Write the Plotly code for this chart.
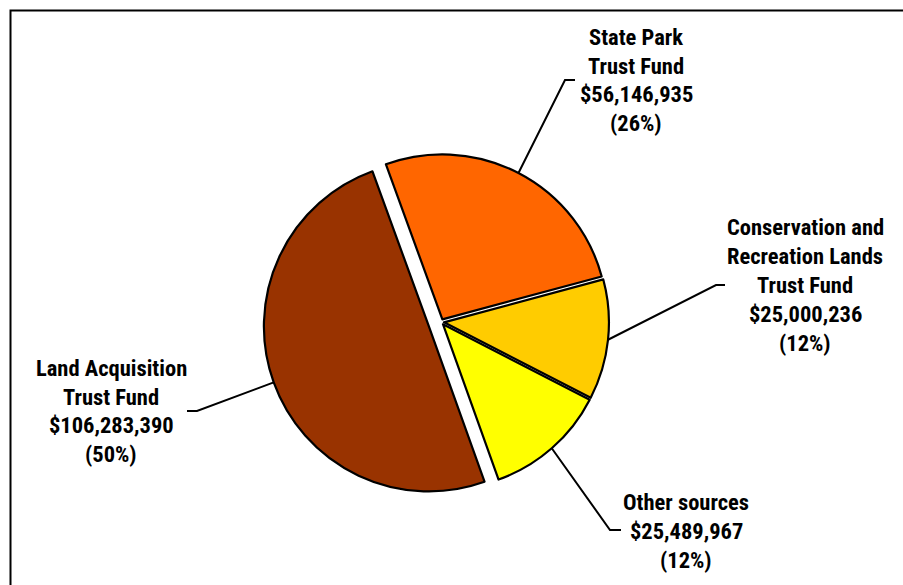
import math
import plotly.graph_objects as go

# ---- data ----
categories = ["State Park<br>Trust Fund", "Conservation and<br>Recreation Lands<br>Trust Fund",
              "Other sources", "Land Acquisition<br>Trust Fund"]
values = [56146935, 25000236, 25489967, 106283390]
pct_labels = ["26%", "12%", "12%", "50%"]
colors = ["#FF6600", "#FFCC00", "#FFFF00", "#993300"]
pulls = [0.018, 0.018, 0.018, 0.078]

W, H = 903, 585
ROT = -20.0          # start angle (deg, clockwise from 12 o'clock)
CX, CY = 441.0, 322.0  # pie centre in pixels
R = 165.0            # pie radius in pixels
half = R * (1 + max(pulls))
LINE_GAP = 28.8

def px(x):
    return x / W

def py(y):
    return 1 - y / H

fig = go.Figure(go.Pie(
    labels=[c.replace("<br>", " ") for c in categories], values=values, sort=False,
    direction="clockwise", rotation=ROT, pull=pulls, textinfo="none",
    hoverinfo="label+value+percent",
    marker=dict(colors=colors, line=dict(color="black", width=2.2)),
    domain=dict(x=[px(CX - half), px(CX + half)], y=[py(CY + half), py(CY - half)]),
    showlegend=False,
))

# label text positions (pixel centres) and leader-line elbows
label_pos = [(636, 80), (805, 285), (686, 531), (111, 411)]
elbows = [[(565, 80), (575, 80)], [(716, 285), (725, 285)],
          [(610, 530), (621, 530)], [(197, 411), (187, 411)]]

total = sum(values)
acc = 0.0
shapes = []
annotations = []
font = dict(family="Roboto, sans-serif", size=22.5, color="black", weight="bold")
for i, v in enumerate(values):
    mid = ROT + (acc + v / 2) / total * 360.0
    acc += v
    a = math.radians(mid)
    rr = R * (1 + pulls[i])
    sx = CX + rr * math.sin(a)
    sy = CY - rr * math.cos(a)
    pts = [(sx, sy)] + elbows[i]
    path = "M " + " L ".join(f"{px(x):.5f},{py(y):.5f}" for x, y in pts)
    shapes.append(dict(type="path", xref="paper", yref="paper", path=path,
                       line=dict(color="black", width=2)))
    lines = categories[i].split("<br>") + [f"${v:,}", f"({pct_labels[i]})"]
    lx, ly = label_pos[i]
    n = len(lines)
    for k, t in enumerate(lines):
        yy = ly + (k - (n - 1) / 2) * LINE_GAP
        annotations.append(dict(x=px(lx), y=py(yy), xref="paper", yref="paper",
                                text=f'<span style="font-stretch:condensed">{t}</span>',
                                showarrow=False, align="center", xanchor="center",
                                yanchor="middle", font=font))

# outer frame (open to the right and bottom)
shapes.append(dict(type="rect", xref="paper", yref="paper", x0=px(10.5), x1=1.02,
                   y0=-0.02, y1=py(10.5), line=dict(color="black", width=2),
                   fillcolor="rgba(0,0,0,0)", layer="below"))

fig.update_layout(
    width=W, height=H, autosize=False,
    margin=dict(l=0, r=0, t=0, b=0),
    paper_bgcolor="white", plot_bgcolor="white",
    shapes=shapes, annotations=annotations,
    font=font,
)

fig.write_html("out.html")
